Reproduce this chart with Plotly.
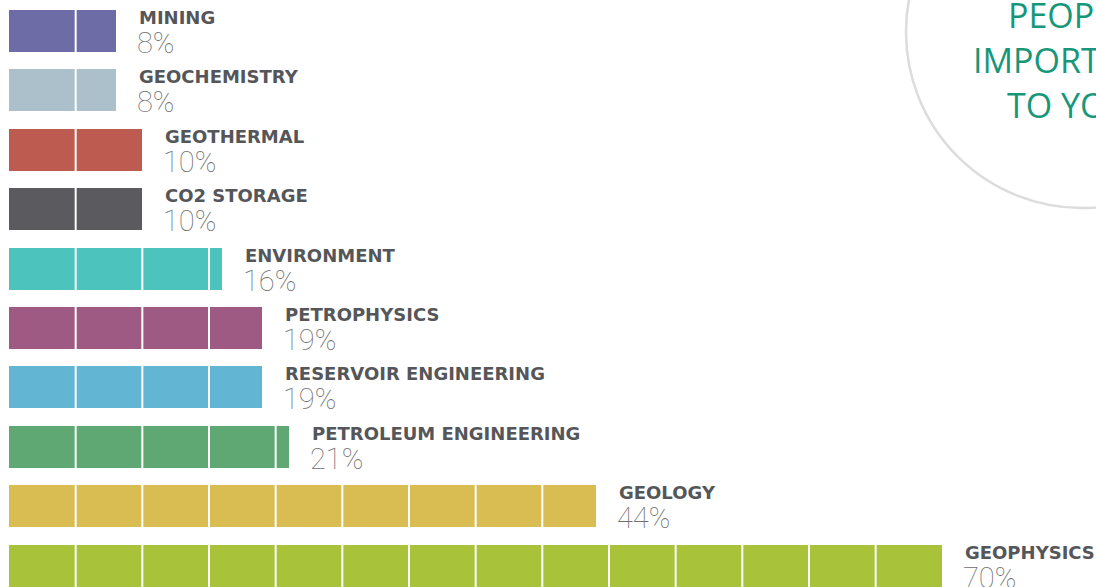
import plotly.graph_objects as go

categories = ["MINING", "GEOCHEMISTRY", "GEOTHERMAL", "CO2 STORAGE", "ENVIRONMENT",
              "PETROPHYSICS", "RESERVOIR ENGINEERING", "PETROLEUM ENGINEERING",
              "GEOLOGY", "GEOPHYSICS"]
values = [8, 8, 10, 10, 16, 19, 19, 21, 44, 70]
colors = ["#6e6ca6", "#abc0cb", "#bd5b50", "#5a5a5f", "#4cc3bc",
          "#9e5a82", "#62b6d3", "#5fa874", "#d9bd53", "#a8c23a"]
title_lines = ["PEOPLE", "IMPORTANT", "TO YOU"]

W, H = 1096, 587
ML = 9
px_per_unit = 13.333
pitch = 59.4
first_center = 31.0
bar_frac = 42 / pitch

pos = list(range(len(categories)))

fig = go.Figure()
fig.add_trace(go.Bar(
    x=values, y=pos, orientation="h",
    marker=dict(color=colors, line=dict(width=0)),
    width=bar_frac, hoverinfo="skip", showlegend=False,
))

plot_w = W - ML
xmax = plot_w / px_per_unit
ytop = -first_center / pitch
ybot = (H - first_center) / pitch

shapes = []
# segment dividers every 5%
for i, v in enumerate(values):
    k = 5
    while k < v:
        shapes.append(dict(type="line", xref="x", yref="y", x0=k, x1=k,
                           y0=i - bar_frac / 2 - 0.01, y1=i + bar_frac / 2 + 0.01,
                           line=dict(color="white", width=2), layer="above"))
        k += 5

def px2paper_x(px):
    return (px - ML) / plot_w

def py2paper_y(py):
    return 1 - py / H

cx, cy, r = 1082, 32, 176
shapes.append(dict(type="circle", xref="paper", yref="paper",
                   x0=px2paper_x(cx - r), x1=px2paper_x(cx + r),
                   y0=py2paper_y(cy + r), y1=py2paper_y(cy - r),
                   line=dict(color="#dcdcdc", width=2.5), fillcolor="rgba(0,0,0,0)",
                   layer="below"))

annotations = []
for i, (c, v) in enumerate(zip(categories, values)):
    annotations.append(dict(x=v, y=i, xref="x", yref="y", text=c,
                            xanchor="left", yanchor="middle", xshift=21, yshift=13.5,
                            showarrow=False,
                            font=dict(family="DejaVu Sans", size=18, color="#555659", weight="bold")))
    annotations.append(dict(x=v, y=i, xref="x", yref="y", text=f"{v}%",
                            xanchor="left", yanchor="middle", xshift=19, yshift=-12,
                            showarrow=False,
                            font=dict(family="Roboto", size=29, color="#6e6e6e", weight=100)))

line_y = [15, 60, 105]
for t, yy in zip(title_lines, line_y):
    annotations.append(dict(x=px2paper_x(1069), y=py2paper_y(yy), xref="paper", yref="paper",
                            text=t, xanchor="center", yanchor="middle", showarrow=False,
                            font=dict(family="Open Sans", size=34, color="#16977a")))

fig.update_layout(
    width=W, height=H,
    margin=dict(l=ML, r=0, t=0, b=0),
    paper_bgcolor="white", plot_bgcolor="white",
    xaxis=dict(range=[0, xmax], visible=False, fixedrange=True),
    yaxis=dict(range=[ybot, ytop], visible=False, fixedrange=True),
    shapes=shapes, annotations=annotations,
    bargap=0,
)

fig.write_html("out.html", config={"displayModeBar": False})
